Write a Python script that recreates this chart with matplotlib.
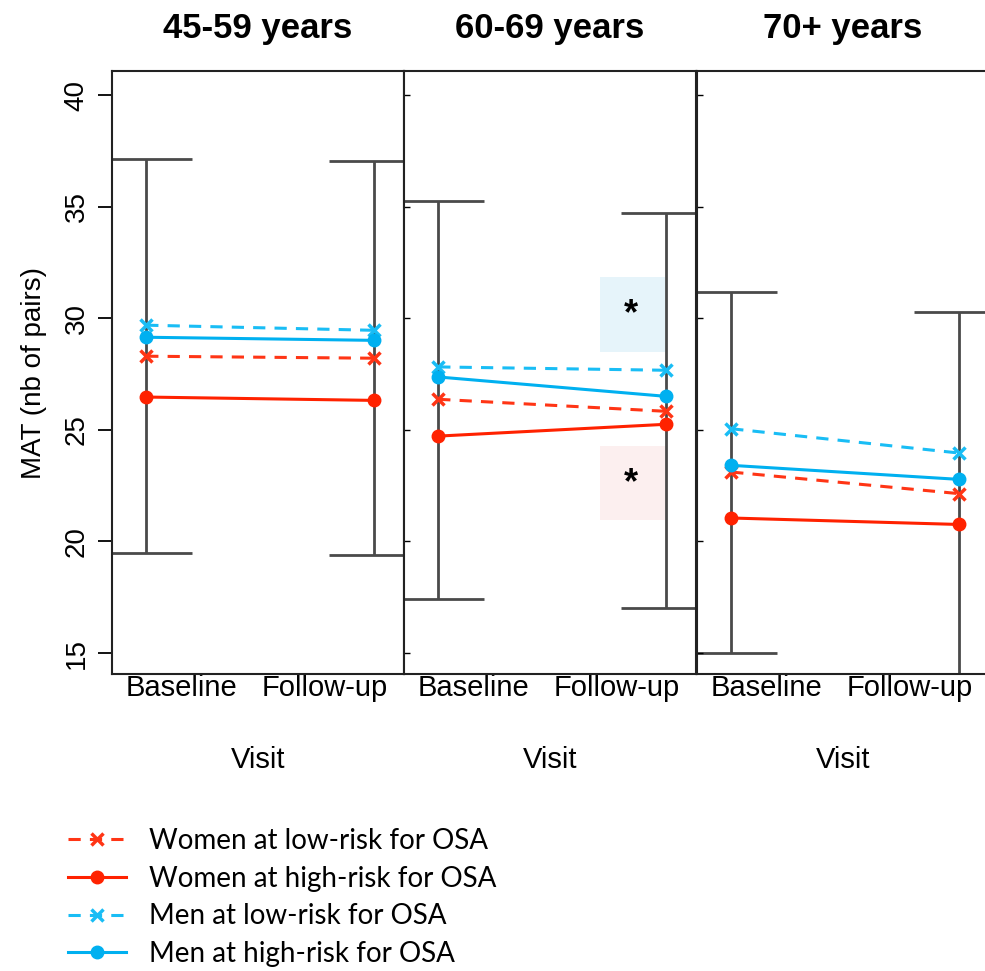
import matplotlib
matplotlib.use("Agg")
import matplotlib.pyplot as plt
from matplotlib.lines import Line2D
from matplotlib.patches import Rectangle

plt.rcParams['font.family'] = ['Liberation Sans', 'DejaVu Sans']

# ---------------- data ----------------
age_groups = ['45-59 years', '60-69 years', '70+ years']
visits = ['Baseline', 'Follow-up']
series_labels = ['Women at low-risk for OSA', 'Women at high-risk for OSA',
                 'Men at low-risk for OSA', 'Men at high-risk for OSA']
women_low = [[28.30, 28.21], [26.37, 25.83], [23.11, 22.14]]
women_high = [[26.47, 26.32], [24.72, 25.25], [21.05, 20.76]]
men_low = [[29.69, 29.46], [27.82, 27.67], [25.05, 23.96]]
men_high = [[29.15, 29.01], [27.37, 26.50], [23.41, 22.78]]
ci_lower = [[19.50, 19.37], [17.44, 17.00], [14.98, 14.08]]
ci_upper = [[37.13, 37.04], [35.25, 34.70], [31.17, 30.27]]
y_ticks = [15, 20, 25, 30, 35, 40]
# significance (panel index, visit index, y-range of shaded box)
sig_panel = 1
sig_visit = 1
sig_men_range = (28.48, 31.84)
sig_women_range = (20.94, 24.26)

# ---------------- style ----------------
RED = '#ff2200'
RED_L = '#ff3515'
CYAN = '#00b0f0'
CYAN_L = '#19bdf5'
ERR = '#4a4a4a'

styles = [
    dict(color=RED_L, ls=(0, (4, 3)), marker='x', ms=8, mew=2.5, lw=2.2),
    dict(color=RED, ls='-', marker='o', ms=9, lw=2.2),
    dict(color=CYAN_L, ls=(0, (4, 3)), marker='x', ms=8, mew=2.5, lw=2.2),
    dict(color=CYAN, ls='-', marker='o', ms=9, lw=2.2),
]
all_series = [women_low, women_high, men_low, men_high]

W, H = 985, 971
fig = plt.figure(figsize=(W / 100, H / 100), dpi=100)

left_px = [112, 404, 697]
pw = 292
top_px, bot_px = 71, 674
xpos = [1, 2]
label_pos = [1.153, 1.784]
cap = 0.2

axes = []
for i in range(3):
    ax = fig.add_axes([left_px[i] / W, 1 - bot_px / H, pw / W, (bot_px - top_px) / H])
    axes.append(ax)
    ax.set_xlim(0.85, 2.13)
    ax.set_ylim(14.06, 41.08)
    # error bars
    for j, x in enumerate(xpos):
        ax.vlines(x, ci_lower[i][j], ci_upper[i][j], color=ERR, lw=2, zorder=1)
        ax.hlines([ci_lower[i][j], ci_upper[i][j]], x - cap, x + cap, color=ERR, lw=2, zorder=1)
    for s, st in zip(all_series, styles):
        ax.plot(xpos, s[i], zorder=3, **st)
    ax.set_xticks(label_pos)
    ax.set_xticklabels(visits, fontsize=21)
    ax.tick_params(axis='x', length=0, pad=0)
    ax.set_xlabel('Visit', fontsize=21, labelpad=32)
    ax.set_yticks(y_ticks)
    ax.set_title(age_groups[i], fontsize=25, fontweight='bold', pad=24)
    for sp in ax.spines.values():
        sp.set_linewidth(1.5)
        sp.set_color('#222222')
    if i == 0:
        ax.set_yticklabels([str(t) for t in y_ticks], fontsize=20, rotation=90, va='center')
        ax.tick_params(axis='y', length=10, width=1.3, pad=6)
        ax.set_ylabel('MAT (nb of pairs)', fontsize=20, labelpad=12)
    else:
        ax.set_yticklabels([])
        ax.tick_params(axis='y', length=4, width=1, direction='in')

# significance boxes
ax = axes[sig_panel]
xs = xpos[sig_visit]
for (lo, hi), fc in [(sig_men_range, '#e6f4fa'), (sig_women_range, '#fcefef')]:
    ax.add_patch(Rectangle((xs - 0.29, lo), 0.285, hi - lo, facecolor=fc, edgecolor='none', zorder=0.5))
    ax.text(xs - 0.154, (lo + hi) / 2, '*', fontsize=26, fontweight='bold', ha='center', va='center', zorder=4)

# legend
handles = [Line2D([], [], **st) for st in styles]
leg = fig.legend(handles, series_labels, loc='upper left', bbox_to_anchor=(43 / W, 1 - 803 / H),
                 frameon=False, handlelength=2.1, handletextpad=0.8, labelspacing=0.42,
                 prop={'family': ['Lato', 'DejaVu Sans'], 'size': 20})

fig.savefig('out.png', dpi=100)
